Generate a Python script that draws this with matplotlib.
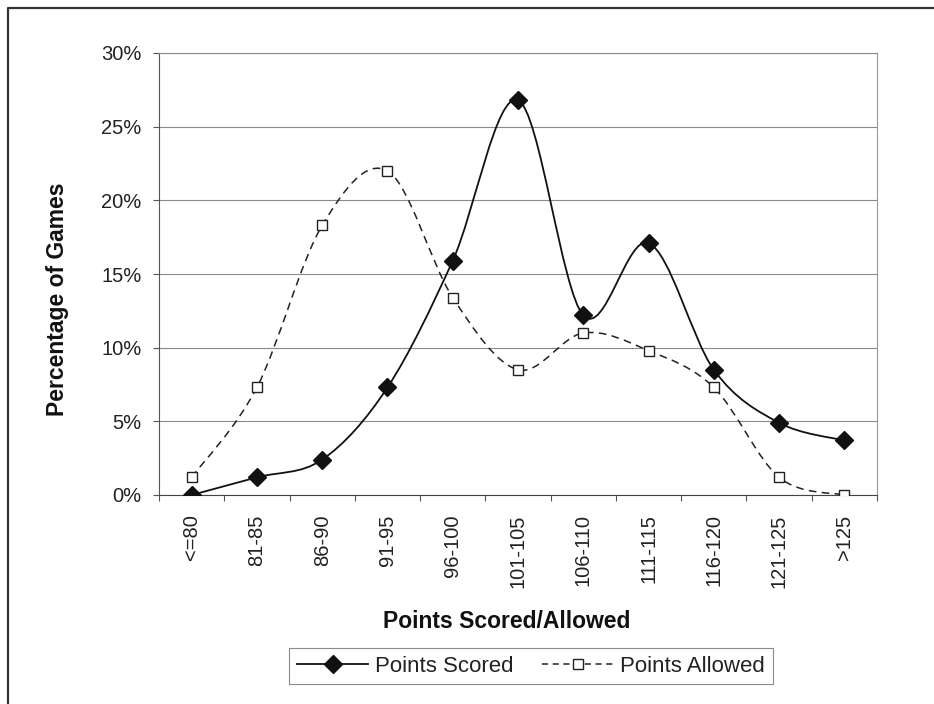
import matplotlib
matplotlib.use("Agg")
import matplotlib.pyplot as plt
from matplotlib.path import Path
from matplotlib.patches import PathPatch
from matplotlib.lines import Line2D

plt.rcParams['font.family'] = ['Liberation Sans', 'DejaVu Sans']

# share of games (%) in each points bucket
buckets = ['<=80', '81-85', '86-90', '91-95', '96-100', '101-105',
           '106-110', '111-115', '116-120', '121-125', '>125']
points_scored = [0.0, 1.2, 2.4, 7.3, 15.9, 26.8, 12.2, 17.1, 8.5, 4.9, 3.7]
points_allowed = [1.2, 7.3, 18.3, 22.0, 13.4, 8.5, 11.0, 9.8, 7.3, 1.2, 0.0]
y_ticks = [0, 5, 10, 15, 20, 25, 30]


def smooth_path(xs, ys):
    # spreadsheet-style smoothed line: cubic bezier through every point
    pts = list(zip(xs, ys))
    n = len(pts)
    verts = [pts[0]]
    codes = [Path.MOVETO]
    for i in range(n - 1):
        p0 = pts[max(i - 1, 0)]
        p1 = pts[i]
        p2 = pts[i + 1]
        p3 = pts[min(i + 2, n - 1)]
        c1 = (p1[0] + (p2[0] - p0[0]) / 6, p1[1] + (p2[1] - p0[1]) / 6)
        c2 = (p2[0] - (p3[0] - p1[0]) / 6, p2[1] - (p3[1] - p1[1]) / 6)
        verts += [c1, c2, p2]
        codes += [Path.CURVE4] * 3
    return Path(verts, codes)


fig = plt.figure(figsize=(9.34, 7.04), dpi=100)
ax = fig.add_axes([159 / 934, 1 - 495 / 704, 718 / 934, 442 / 704])

x = list(range(len(buckets)))
dash = (0, (5, 3.5))

ax.add_patch(PathPatch(smooth_path(x, points_allowed), fill=False,
                       edgecolor='#222222', lw=1.1, linestyle=dash, zorder=3))
ax.add_patch(PathPatch(smooth_path(x, points_scored), fill=False,
                       edgecolor='#111111', lw=1.3, zorder=4))
ax.plot(x, points_allowed, ls='none', marker='s', ms=7, mfc='white',
        mec='#222222', mew=1.0, zorder=5)
ax.plot(x, points_scored, ls='none', marker='D', ms=9, mfc='#111111',
        mec='#111111', zorder=6)

ax.set_xlim(-0.5, len(buckets) - 0.5)
ax.set_ylim(0, 30)
ax.set_yticks(y_ticks)
ax.set_yticklabels([f'{v}%' for v in y_ticks])
ax.set_xticks(x)
ax.set_xticklabels(buckets, rotation=90, va='top')
ax.set_xticks([i - 0.5 for i in range(len(buckets) + 1)], minor=True)

ax.grid(axis='y', color='#8a8a8a', lw=0.8)
ax.set_axisbelow(True)
ax.tick_params(axis='y', length=4.5, width=0.8, color='#555555', pad=8,
               labelsize=14.5, labelcolor='#222222')
ax.tick_params(axis='x', which='major', length=0, pad=14,
               labelsize=14.5, labelcolor='#222222')
ax.tick_params(axis='x', which='minor', length=4, width=0.8, color='#555555')

ax.spines['left'].set_color('#555555')
ax.spines['bottom'].set_color('#444444')
ax.spines['right'].set_color('#9a9a9a')
ax.spines['top'].set_color('#8a8a8a')
for s in ax.spines.values():
    s.set_linewidth(0.8)

ax.set_xlabel('Points Scored/Allowed', fontsize=16.5, fontweight='bold',
              color='#111111', va='center')
ax.xaxis.set_label_coords((507 - 159) / 718, (495 - 622) / 442)
ax.set_ylabel('Percentage of Games', fontsize=16.5, fontweight='bold',
              color='#111111', va='center')
ax.yaxis.set_label_coords((58 - 159) / 718, (495 - 299) / 442)

handles = [
    Line2D([], [], color='#111111', lw=1.3, marker='D', ms=9,
           mfc='#111111', mec='#111111'),
    Line2D([], [], color='#222222', lw=1.1, linestyle=(0, (4, 3)),
           marker='s', ms=7, mfc='white', mec='#222222'),
]
leg = fig.legend(handles, ['Points Scored', 'Points Allowed'], ncol=2,
                 loc='center', bbox_to_anchor=(531 / 934, 1 - 666 / 704),
                 fontsize=16, handlelength=3.2, handletextpad=0.3,
                 columnspacing=1.3, borderpad=0.35, fancybox=False,
                 edgecolor='#8a8a8a', framealpha=1)
leg.get_frame().set_linewidth(0.8)
for t in leg.get_texts():
    t.set_color('#222222')

# outer frame (left and top edges)
fig.add_artist(Line2D([8 / 934, 8 / 934, 1.0], [0.0, 1 - 8 / 704, 1 - 8 / 704],
                      transform=fig.transFigure, color='#333333', lw=1.6))

fig.savefig('out.png', dpi=100)
